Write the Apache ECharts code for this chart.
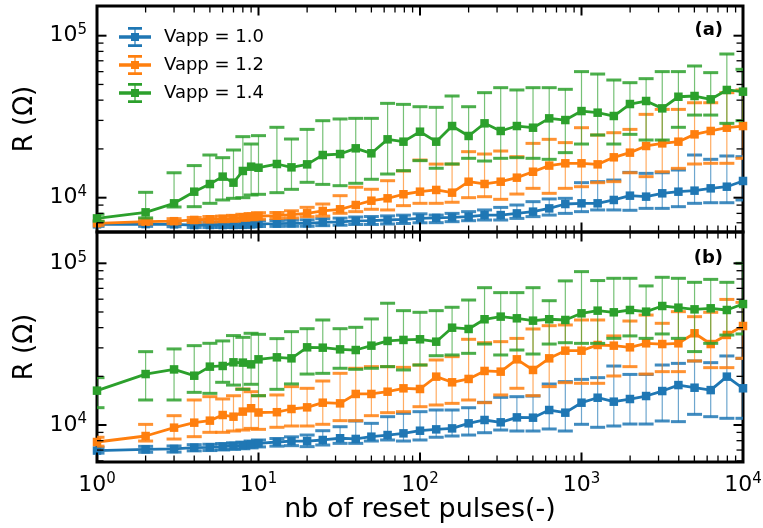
<!DOCTYPE html>
<html><head><meta charset="utf-8">
<script src="https://cdn.jsdelivr.net/npm/echarts@6/dist/echarts.min.js"></script>
<style>html,body{margin:0;padding:0;background:#fff}#c{width:763px;height:528px}</style>
</head><body><div id="c"></div><script>
// ---------- data ----------
const pulses = [1,2,3,4,5,6,7,8,9,10,13,16,20,25,32,40,50,63,79,100,126,158,200,251,316,398,501,631,794,1000,1259,1585,1995,2512,3162,3981,5012,6310,7943,10000];
const seriesNames = ['Vapp = 1.0','Vapp = 1.2','Vapp = 1.4'];

// panel (a)
const aBlueVal = [6850,6870,6850,6780,6780,6780,6790,6800,6850,6900,6920,6940,6950,7050,7100,7200,7220,7280,7350,7460,7500,7550,7630,7810,7810,8000,8200,8590,9140,9230,9230,9680,10290,10150,10640,10890,11050,11420,11690,12680];
const aBlueHi  = [7050,7100,7100,7050,7050,7050,7060,7080,7130,7200,7230,7260,7300,7420,7480,7600,7650,7720,7800,7950,7810,8000,8200,8400,8710,9010,9450,9820,9910,12380,12560,12850,14330,14130,14250,14820,18340,17250,18090,17910];
const aBlueLo  = [6650,6650,6620,6550,6550,6550,6550,6560,6600,6640,6650,6660,6660,6720,6760,6830,6830,6880,6930,7000,7010,7110,7210,7280,7280,7450,7640,7810,8000,8200,8400,8400,8360,8590,8590,8800,9230,9310,9310,9680];
const aOrangeVal = [6950,7110,7160,7285,7360,7400,7460,7570,7630,7710,7750,7850,8010,8280,8480,9010,9580,9910,10500,10890,11160,10740,12550,12150,12550,13290,14460,15780,16300,16300,16060,17750,18970,20850,21640,22170,24600,25810,27040,27690];
const aOrangeHi  = [7150,7350,7420,7550,7650,7700,7780,7900,7980,8080,8100,8300,8720,9140,10290,11600,11270,12730,14620,17080,16120,16120,19230,18600,19410,17910,21640,22920,21870,27040,24370,25180,26400,32690,35080,35080,38550,38550,44490,46230];
const aOrangeLo  = [6750,6880,6920,7030,7080,7110,7150,7250,7300,7360,7450,7500,7630,7700,8010,8200,8480,8400,8930,9230,9230,9370,10000,10140,9770,10530,11420,10640,11420,11690,12380,12560,14250,13480,14460,15170,16140,16300,16300,17500];
const aGreenVal = [7450,8120,9230,10890,12140,13490,12380,14620,15540,15310,16140,15390,16060,18340,18600,20170,18790,22920,22170,25540,22170,27690,24040,28770,25810,27690,27040,30880,30150,34250,33480,31930,37860,39520,35590,41980,42430,40470,46230,45130];
const aGreenHi  = [7900,10790,14250,15780,18340,17660,19690,23810,21440,24150,27190,23020,26400,29870,30610,30880,30880,38220,37670,36440,36120,42430,36440,44490,47760,46230,47760,47760,46660,60000,57980,53250,51270,54290,60000,60000,65000,59140,77080,62000];
const aGreenLo  = [7150,7500,8760,8800,9230,9680,9910,10000,10390,10490,10740,11260,12440,12080,11860,12270,12990,14000,14680,16930,15190,16140,17500,16840,17500,17660,17500,17250,18970,21440,24370,21440,24600,22700,22700,27190,32360,32360,28770,29870];

// panel (b)
const bBlueVal = [6950,7070,7110,7240,7280,7350,7420,7490,7590,7700,7850,7950,7950,8080,8280,8200,8470,8670,8880,9220,9400,9530,10240,10740,10390,11150,11100,12380,11920,13740,14750,13940,14480,15110,16220,17660,17010,16440,19910,16870];
const bBlueHi  = [7250,7380,7420,7560,7600,7680,7760,7840,7960,8080,8250,8450,8670,9220,9760,10590,10240,11260,11810,12090,12380,12380,12790,13810,14830,14970,15110,17930,18550,19150,19630,23160,20550,20550,23500,24050,24890,24300,26730,25840];
const bBlueLo  = [6700,6780,6800,6920,6950,7010,7070,7130,7220,7320,7400,7450,7350,7520,7700,7700,7960,8080,7960,8080,8400,8550,8670,8960,9310,9180,9180,9450,9180,10100,9680,9860,10140,10140,10590,10490,11640,11260,11000,11000];
const bOrangeVal = [7850,8550,9630,10340,10640,11530,11260,12100,12700,11950,12000,12560,12860,13740,13610,15560,15560,16070,16860,16700,19910,18370,19270,21590,21380,25480,21900,25840,28820,28820,31250,30960,30230,32010,31680,32010,36920,31680,36050,40950];
const bOrangeHi  = [8400,10090,11420,14280,14970,14490,15170,16700,16070,15180,15340,17270,16860,18710,20880,22430,22960,22960,22730,23500,25240,26470,33890,32300,32770,34330,39260,41140,41560,44620,44620,35560,43960,47860,42560,50230,46770,49770,59800,57380];
const bOrangeLo  = [7400,7960,8190,8470,9010,9010,9180,9310,9530,9400,9680,9860,9860,10100,10640,10640,11420,11920,12090,12980,13300,13610,14280,13740,15340,16870,15180,17270,18280,18110,18110,20100,22960,20660,21380,21380,24890,22630,22630,25840];
const bGreenVal = [16310,20660,22070,20180,22960,23180,24420,24310,23730,25480,26220,25840,30230,30080,29370,29090,30960,33110,33580,33900,32760,39980,39260,45080,46810,45700,44190,45080,44620,49060,50960,49770,51440,50230,54450,53170,51920,52690,51440,55990];
const bGreenHi  = [19630,28420,29540,30960,32010,33110,35730,34850,36920,36380,34220,37790,39420,44620,39420,40190,45290,56640,50960,49770,50960,53470,59290,70680,65870,65870,70680,58720,77850,88830,78220,80780,80780,72460,81940,80780,76280,79560,76280,100000];
const bGreenLo  = [12800,14280,14280,15920,15700,18370,17660,16620,17860,15180,16620,17950,20660,20870,22430,22100,22430,22960,21900,23500,26830,27110,27750,31680,27110,29090,27480,31680,32280,31990,31990,34350,35560,34350,36570,34350,28450,31990,36000,36570];

// axis ticks
const xMajorTicks = [1,10,100,1000,10000];
const xMinorTicks = [2,3,4,5,6,7,8,9,20,30,40,50,60,70,80,90,200,300,400,500,600,700,800,900,2000,3000,4000,5000,6000,7000,8000,9000];
const yMajorTicks = [10000,100000];
const yMinorTicks = [6000,7000,8000,9000,20000,30000,40000,50000,60000,70000,80000,90000];
const panelLabels = ['(a)','(b)'];
const yRangeA = [6140, 152500];
const yRangeB = [5905, 156200];

// ---------- styling ----------
const colors = ['#1f77b4','#ff7f0e','#2ca02c'];
const FONT = 'DejaVu Sans';

function zip(v){ return pulses.map((p,i)=>[p, v[i]]); }
function zipErr(lo,hi){ return pulses.map((p,i)=>[p, lo[i], hi[i]]); }

function errSeries(grid, lo, hi, color, z){
  return {
    type:'custom', xAxisIndex:grid, yAxisIndex:grid, z:z, clip:true, silent:true,
    encode:{x:0, y:[1,2]},
    data: zipErr(lo,hi),
    renderItem:function(params, api){
      const x = api.value(0), l = api.value(1), h = api.value(2);
      const pH = api.coord([x,h]), pL = api.coord([x,l]);
      const hw = 7.5;
      return {type:'group', children:[
        {type:'line', shape:{x1:pH[0],y1:pH[1],x2:pL[0],y2:pL[1]}, style:{stroke:color, lineWidth:1.2, opacity:0.65}},
        {type:'line', shape:{x1:pH[0]-hw,y1:pH[1],x2:pH[0]+hw,y2:pH[1]}, style:{stroke:color, lineWidth:3, opacity:0.85}},
        {type:'line', shape:{x1:pL[0]-hw,y1:pL[1],x2:pL[0]+hw,y2:pL[1]}, style:{stroke:color, lineWidth:3, opacity:0.85}}
      ]};
    }
  };
}
function lineSeries(grid, name, vals, color, z){
  return {
    type:'line', name:name, xAxisIndex:grid, yAxisIndex:grid, z:z,
    data: zip(vals), symbol:'rect', symbolSize:8.5, showAllSymbol:true,
    lineStyle:{color:color, width:2.8}, itemStyle:{color:color},
    emphasis:{disabled:true}, animation:false
  };
}
function tickSeries(grid, yr){
  const data = [];
  xMajorTicks.forEach(v=>data.push([v, 10000, 1, 0]));
  xMinorTicks.forEach(v=>data.push([v, 10000, 0, 0]));
  yMajorTicks.filter(v=>v>yr[0]&&v<yr[1]).forEach(v=>data.push([1, v, 1, 1]));
  yMinorTicks.filter(v=>v>yr[0]&&v<yr[1]).forEach(v=>data.push([1, v, 0, 1]));
  return {
    type:'custom', xAxisIndex:grid, yAxisIndex:grid, z:20, silent:true, clip:false,
    encode:{x:0, y:1}, data:data,
    renderItem:function(params, api){
      const cs = params.coordSys;
      const major = api.value(2), kind = api.value(3);
      const len = major ? 9.5 : 6.5, w = major ? 2 : 1.3;
      const p = api.coord([api.value(0), api.value(1)]);
      const st = {stroke:'#000', lineWidth:w};
      if (kind === 0){
        const x = p[0], yb = cs.y+cs.height, yt = cs.y;
        return {type:'group', children:[
          {type:'line', shape:{x1:x,y1:yb,x2:x,y2:yb-len}, style:st},
          {type:'line', shape:{x1:x,y1:yt,x2:x,y2:yt+len}, style:st}]};
      } else {
        const y = p[1], xl = cs.x, xr = cs.x+cs.width;
        return {type:'group', children:[
          {type:'line', shape:{x1:xl,y1:y,x2:xl+len,y2:y}, style:st},
          {type:'line', shape:{x1:xr,y1:y,x2:xr-len,y2:y}, style:st}]};
      }
    }
  };
}

const rich = {
  b:{fontSize:22, fontFamily:FONT, color:'#000', lineHeight:26},
  s:{fontSize:15, fontFamily:FONT, color:'#000', lineHeight:18, verticalAlign:'top'}
};
function powLabel(v){
  const e = Math.log10(v), r = Math.round(e);
  if (Math.abs(e-r) > 1e-6) return '';
  return '{b|10}{s|' + r + '}';
}

const legendIcon = 'path://M0 8.2H32V11.8H0Z M15.4 1H16.6V19H15.4Z M9 0H23V2.8H9Z M9 17.2H23V20H9Z M12 6H20V14H12Z';

const yNameStyle = {fontSize:26, fontFamily:FONT, color:'#000'};
const option = {
  animation:false,
  backgroundColor:'#fff',
  title: [
    {text:panelLabels[0], right:35, top:16, padding:5, textStyle:{fontSize:18, fontWeight:'bold', fontFamily:FONT, color:'#000'}},
    {text:panelLabels[1], right:35, top:244, padding:5, textStyle:{fontSize:18, fontWeight:'bold', fontFamily:FONT, color:'#000'}}
  ],
  legend:{
    left:114, top:22, orient:'vertical', itemWidth:32, itemHeight:20, itemGap:8,
    icon:legendIcon, data:seriesNames, selectedMode:false,
    textStyle:{fontSize:18, fontFamily:FONT, color:'#000', padding:[0,0,0,8]}
  },
  grid:[
    {left:97, right:20, top:6, height:226, show:true, borderColor:'#000', borderWidth:3, backgroundColor:'transparent', outerBoundsMode:'none'},
    {left:97, right:20, top:232, height:230, show:true, borderColor:'#000', borderWidth:3, backgroundColor:'transparent', outerBoundsMode:'none'}
  ],
  xAxis:[
    {gridIndex:0, type:'log', min:1, max:10000, axisLabel:{show:false}, axisTick:{show:false}, axisLine:{show:false}, splitLine:{show:false}},
    {gridIndex:1, type:'log', min:1, max:10000, axisTick:{show:false}, axisLine:{show:false}, splitLine:{show:false},
     axisLabel:{formatter:powLabel, rich:rich, margin:10, color:'#000', showMinLabel:true, showMaxLabel:true},
     name:'nb of reset pulses(-)', nameLocation:'middle', nameGap:34, nameTextStyle:{fontSize:27, fontFamily:FONT, color:'#000'}}
  ],
  yAxis:[
    {gridIndex:0, type:'log', min:yRangeA[0], max:yRangeA[1], axisTick:{show:false}, axisLine:{show:false}, splitLine:{show:false},
     axisLabel:{formatter:powLabel, rich:rich, margin:10, color:'#000'},
     name:'R (Ω)', nameLocation:'middle', nameGap:56, nameTextStyle:yNameStyle},
    {gridIndex:1, type:'log', min:yRangeB[0], max:yRangeB[1], axisTick:{show:false}, axisLine:{show:false}, splitLine:{show:false},
     axisLabel:{formatter:powLabel, rich:rich, margin:10, color:'#000'},
     name:'R (Ω)', nameLocation:'middle', nameGap:56, nameTextStyle:yNameStyle}
  ],
  series:[
    errSeries(0, aBlueLo, aBlueHi, colors[0], 2),
    lineSeries(0, seriesNames[0], aBlueVal, colors[0], 3),
    errSeries(0, aOrangeLo, aOrangeHi, colors[1], 4),
    lineSeries(0, seriesNames[1], aOrangeVal, colors[1], 5),
    errSeries(0, aGreenLo, aGreenHi, colors[2], 6),
    lineSeries(0, seriesNames[2], aGreenVal, colors[2], 7),
    errSeries(1, bBlueLo, bBlueHi, colors[0], 2),
    lineSeries(1, seriesNames[0], bBlueVal, colors[0], 3),
    errSeries(1, bOrangeLo, bOrangeHi, colors[1], 4),
    lineSeries(1, seriesNames[1], bOrangeVal, colors[1], 5),
    errSeries(1, bGreenLo, bGreenHi, colors[2], 6),
    lineSeries(1, seriesNames[2], bGreenVal, colors[2], 7),
    tickSeries(0, yRangeA),
    tickSeries(1, yRangeB)
  ]
};
const chart = echarts.init(document.getElementById('c'), null, {renderer:'canvas'});
chart.setOption(option);
</script></body></html>
